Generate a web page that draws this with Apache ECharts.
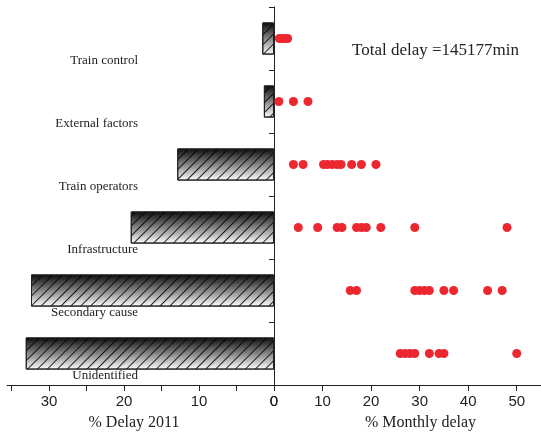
<!DOCTYPE html>
<html>
<head>
<meta charset="utf-8">
<script src="https://cdn.jsdelivr.net/npm/echarts@6/dist/echarts.min.js"></script>
<style>
html, body { margin: 0; padding: 0; background: #fff; }
#chart { width: 541px; height: 437px; }
</style>
</head>
<body>
<div id="chart"></div>
<script>
// ---- data ----
const categories = ['Train control', 'External factors', 'Train operators', 'Infrastructure', 'Secondary cause', 'Unidentified'];
const delay2011 = [1.56, 1.35, 12.9, 19.1, 32.4, 33.1];
const monthlyTrainControl = [1.1, 1.6, 2.2, 2.8];
const monthlyExternal = [1, 4, 7];
const monthlyOperators = [4, 6, 10.2, 11, 12, 13, 13.8, 16, 18, 21];
const monthlyInfrastructure = [5, 9, 13, 14, 17, 18, 19, 22, 29, 48];
const monthlySecondary = [15.7, 17, 29, 30, 31, 32, 35, 37, 44, 47];
const monthlyUnidentified = [26, 27, 28, 29, 32, 34, 35, 50];
const leftTickValues = [0, 5, 10, 15, 20, 25, 30, 35];
const leftTickLabels = [0, 10, 20, 30];
const rightTickValues = [0, 10, 20, 30, 40, 50];
const leftAxisName = '% Delay 2011';
const rightAxisName = '% Monthly delay';
const annotation = 'Total delay =145177min';

const monthlyByCategory = [monthlyTrainControl, monthlyExternal, monthlyOperators, monthlyInfrastructure, monthlySecondary, monthlyUnidentified];
const scatterData = [];
monthlyByCategory.forEach((arr, i) => arr.forEach(v => scatterData.push([v, categories[i]])));

const serif = "'Liberation Serif', 'Times New Roman', serif";
const sans = "'Liberation Sans', Arial, sans-serif";
const ink = '#222';

const chart = echarts.init(document.getElementById('chart'));
chart.setOption({
  animation: false,
  backgroundColor: '#fff',
  title: {
    text: annotation,
    left: 352, top: 42, padding: 0,
    textStyle: { fontFamily: serif, fontSize: 17, fontWeight: 'normal', color: ink }
  },
  grid: [
    { left: 7, width: 267, top: 7, bottom: 52 },
    { left: 274, right: 0, top: 7, bottom: 52 }
  ],
  xAxis: [
    {
      gridIndex: 0, type: 'value', inverse: true, min: 0, max: 35.6,
      axisLine: { show: true, lineStyle: { color: ink, width: 1 } },
      axisTick: { show: true, length: 6, customValues: leftTickValues, lineStyle: { color: ink } },
      axisLabel: { customValues: leftTickLabels, margin: 9, fontFamily: sans, fontSize: 15, color: ink },
      splitLine: { show: false },
      name: leftAxisName, nameLocation: 'middle', nameGap: 30,
      nameTextStyle: { fontFamily: serif, fontSize: 16, color: ink, padding: [0, 13, 0, 0] }
    },
    {
      gridIndex: 1, type: 'value', min: 0, max: 55,
      axisLine: { show: true, lineStyle: { color: ink, width: 1 } },
      axisTick: { show: true, length: 6, customValues: rightTickValues, lineStyle: { color: ink } },
      axisLabel: { customValues: rightTickValues, margin: 9, fontFamily: sans, fontSize: 15, color: ink },
      splitLine: { show: false },
      name: rightAxisName, nameLocation: 'middle', nameGap: 30,
      nameTextStyle: { fontFamily: serif, fontSize: 16, color: ink, padding: [0, 0, 0, 26] }
    }
  ],
  yAxis: [
    {
      gridIndex: 0, type: 'category', data: categories, inverse: true, position: 'right',
      axisLine: { show: true, lineStyle: { color: ink, width: 1 } },
      axisTick: { show: true, inside: true, length: 5, lineStyle: { color: ink } },
      axisLabel: {
        inside: true, interval: 0, hideOverlap: false, margin: 136,
        fontFamily: serif, fontSize: 13, color: ink,
        verticalAlign: 'top', lineHeight: 44
      },
      splitLine: { show: false }
    },
    {
      gridIndex: 1, type: 'category', data: categories, inverse: true, show: false
    }
  ],
  series: [
    {
      type: 'bar', xAxisIndex: 0, yAxisIndex: 0, data: delay2011, barWidth: '51%',
      itemStyle: {
        color: new echarts.graphic.LinearGradient(0, 0, 0, 1, [
          { offset: 0, color: '#0a0a0a' },
          { offset: 1, color: '#ffffff' }
        ]),
        borderColor: ink, borderWidth: 1,
        decal: {
          symbol: 'rect', symbolSize: 1, color: 'rgba(0,0,0,0.85)',
          dashArrayX: [1, 0], dashArrayY: [1, 6], rotation: -Math.PI / 4
        }
      }
    },
    {
      type: 'scatter', xAxisIndex: 1, yAxisIndex: 1, data: scatterData,
      symbolSize: 9, itemStyle: { color: '#ec2730', opacity: 1 }, z: 5
    }
  ]
});
</script>
</body>
</html>
